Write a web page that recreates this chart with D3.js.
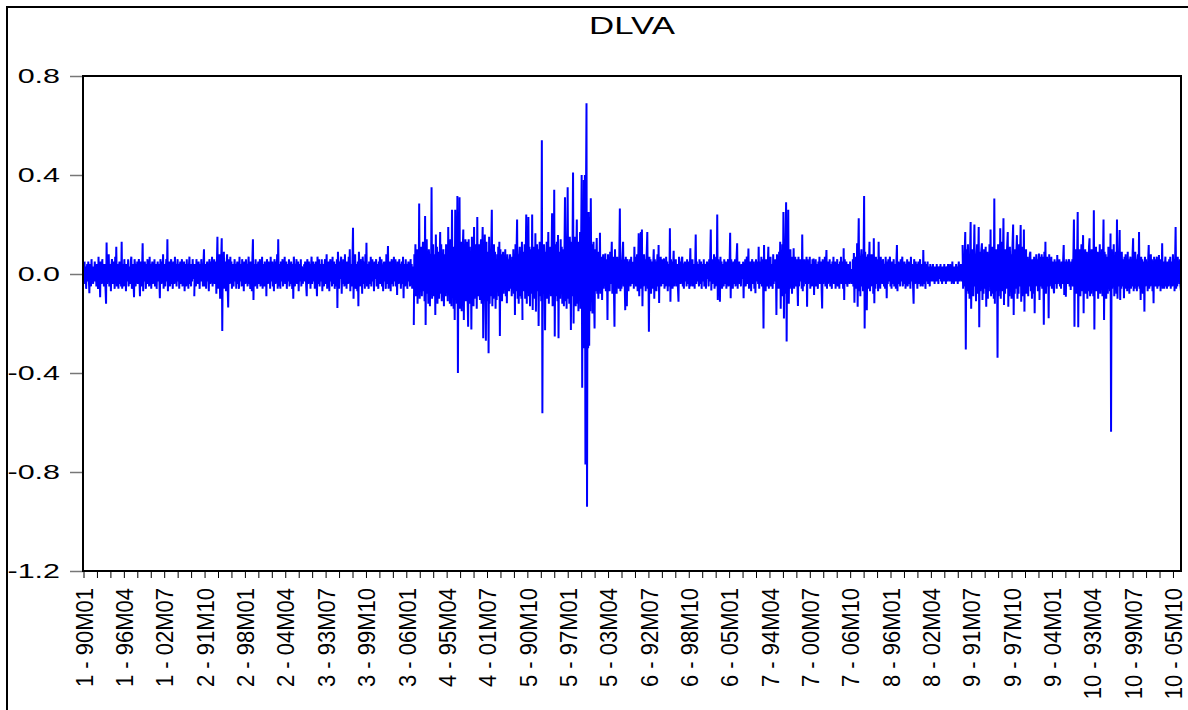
<!DOCTYPE html>
<html>
<head>
<meta charset="utf-8">
<script src="https://cdn.jsdelivr.net/npm/d3@7"></script>
<style>
    body { margin: 0; background: #fff; }
    svg { display: block; font-family: "Liberation Sans", Arial, sans-serif; }
</style>
</head>
<body>
<div id="chart"></div>
<script>
// DLVA, stacked panel: 10 cross-sections, 1990M01 .. 2006M12 (204 months each)
// first obs of each section is NA (differenced series)
const cs1 = [
    null, .05, -.04, .03, -.06, .02, .04, -.03, .05, -.02, -.078, .04, .01, -.05, .06, -.02, .03, -.04, .02, -.03,
    .05, -.01, .03, -.05, .04, .02, -.06, .07, -.03, .02, -.094, .05, .03, -.04, .06, -.02, .01, -.05, .04, .03,
    -.06, -.12, .127, -.04, .05, -.03, .08, -.05, .02, .04, -.07, .03, .06, -.02, -.04, .05, .01, -.06, .07, -.03,
    .11, -.05, .02, .04, -.06, .03, .05, -.04, .02, -.05, .13, -.06, .03, .04, -.05, .06, -.02, .03, -.07, .04,
    .02, -.03, .06, -.05, .03, .01, -.04, .05, .07, -.06, .02, .04, -.03, -.094, .06, .03, -.05, .04, -.02, .05,
    -.04, .03, .06, -.02, -.09, .05, .03, -.05, .02, .124, -.07, .04, -.03, .05, .02, -.06, .04, -.02, .06, -.04,
    .03, -.05, .07, -.02, .04, -.06, .03, .05, -.04, .02, -.03, .06, -.05, .03, .04, -.06, .02, .05, -.03, .04,
    -.02, -.098, .06, .03, -.04, .05, -.02, .08, -.06, .03, .04, -.05, .02, .06, -.03, .14, -.07, .04, -.02, .05,
    -.05, .03, .06, -.04, .02, -.06, .05, .03, -.04, .07, -.02, .04, -.05, .02, .06, -.03, .04, -.06, .03, .05,
    -.04, .02, .06, -.05, .03, -.02, .05, -.07, .04, .02, -.05, .06, -.03, .04, -.06, .03, .07, -.04, .02, -.05,
    .04, -.03, .06, -.02
];
const cs2 = [
    null, -.09, .04, .03, -.05, .06, -.02, .03, -.04, .05, .02, -.06, .04, -.03, .06, -.02, .03, -.05, .04, .10,
    -.05, .02, .04, -.06, .03, .05, -.03, .02, -.07, .06, .03, -.04, .05, -.02, .07, -.05, .02, -.03, .06, -.04,
    .03, .05, -.08, .04, .15, -.06, .03, -.05, .08, -.1, .04, .06, .144, -.23, .07, -.04, .09, -.06, .03, .05,
    -.07, .04, .08, -.05, -.135, .06, .02, -.04, .07, -.03, .05, -.06, .03, .04, -.05, .02, .06, -.03, .04, -.06,
    .03, .05, -.04, .02, -.06, .07, -.03, .04, .02, -.05, .06, -.02, .03, -.07, .05, .02, -.04, .06, -.03, .04,
    -.05, .03, .07, -.04, .02, -.06, .05, .03, -.07, .06, .14, -.105, .04, .02, -.05, .06, -.03, .04, -.06, .03,
    .05, -.04, .02, .06, -.05, .03, -.02, .07, -.06, .04, .02, -.05, .05, -.03, .04, -.09, .06, .03, -.04, .05,
    -.02, .04, -.06, .07, -.03, .02, .05, -.05, .04, -.07, .06, .03, -.04, .05, -.02, .08, -.06, .14, -.05, .03,
    .04, -.06, .05, -.03, .02, .06, -.05, .04, -.02, .07, -.04, .03, .05, -.06, .02, .04, -.03, .06, -.05, .03,
    -.04, .05, .02, -.06, .04, -.1, .07, .03, -.05, .04, -.02, .06, -.04, .03, .05, -.07, .02, .04, -.03, .06,
    -.05, .03, .02, -.04
];
const cs3 = [
    null, .04, -.03, .05, .02, -.05, -.09, .06, .03, -.04, .05, -.02, .04, -.06, .03, .07, -.04, .02, .05, -.03,
    .04, -.06, .03, .05, -.02, -.09, .07, .03, -.04, .06, -.05, .02, .04, -.03, .06, -.07, .04, .02, -.05, .03,
    .06, -.04, .02, .08, -.06, .03, -.02, .05, -.07, .04, .06, -.03, .02, -.05, .07, -.04, .03, .05, -.06, .02,
    .04, -.05, .06, -.137, .09, .03, -.06, .05, -.02, .04, .07, -.08, .03, -.04, .06, .02, -.05, .08, -.03, .04,
    -.06, .05, .02, -.04, .07, -.03, .1, -.07, .04, .02, -.05, .06, .187, -.1, .05, -.03, .08, -.06, .02, .04,
    -.07, .05, -.13, .09, .03, -.05, .06, -.02, .04, -.08, .07, .03, -.04, .05, -.06, .08, -.03, .126, -.05, .04,
    .02, -.06, .05, .03, -.04, .07, -.05, .02, .06, -.03, .04, -.07, .05, .03, -.02, .06, -.05, .04, .02, -.06,
    .05, -.03, .07, -.04, .02, .06, -.05, .03, -.07, .04, .05, -.03, .02, -.06, .08, -.04, .03, .113, -.06, .04,
    -.02, .05, -.07, .03, .06, -.04, .02, -.05, .07, -.03, .04, .06, -.05, .02, -.085, .05, .03, -.04, .06, -.02,
    .04, -.06, .03, .05, -.04, .07, -.098, .04, .02, -.05, .06, -.03, .04, -.06, .02, .05, -.03, .04, -.05, .06,
    -.02, .04, -.06, .03
];
const cs4 = [
    null, -.206, .08, -.05, .12, -.09, .06, .1, -.12, .05, -.08, .285, -.1, .07, -.04, .11, -.09, .06, .13, -.07,
    .05, -.11, .234, -.206, .09, .14, -.08, .06, -.12, .1, .05, -.13, .08, -.06, .35, -.1, .07, .12, -.09, .05,
    .08, -.166, .16, -.07, .11, -.12, .06, .09, -.1, .04, .17, -.08, .12, -.11, .07, -.05, .1, -.13, .08, .06,
    -.09, .12, -.06, .08, -.11, .19, -.07, .1, -.12, .14, .06, -.13, .26, -.09, .11, -.14, .08, -.186, .26, -.1,
    .15, -.12, .315, -.40, .12, -.08, .31, -.14, .09, .13, -.15, .07, .1, .18, -.186, .12, -.09, .14, -.11, .06,
    .13, -.1, -.213, .14, -.07, .11, -.12, .09, -.224, .15, -.06, .08, -.13, .19, -.1, .12, -.08, .1, -.14, .23,
    -.09, .07, .12, -.06, -.105, .1, .14, -.12, .08, .19, -.26, .12, -.1, .16, -.08, -.27, .13, -.11, .09, .07,
    -.32, .15, -.12, .08, -.09, .11, .26, -.13, .07, -.1, .12, -.06, .09, -.14, .05, -.105, .08, -.07, .11, -.09,
    .13, -.25, .1, -.06, .08, -.11, .05, .09, -.08, .07, -.05, .1, -.09, .06, -.118, .08, -.04, .06, -.07, .05,
    .08, -.06, .04, -.09, .07, -.05, .1, -.08, .06, -.166, .12, -.07, .09, .22, -.1, .08, -.12, .06, .11, -.09,
    .07, -.1, .13, -.186
];
const cs5 = [
    null, .09, -.07, .12, -.1, .06, .24, -.12, .08, -.06, .23, -.09, .11, -.13, .07, .1, -.08, .24, -.145, .09,
    -.06, .11, -.1, .165, -.152, .08, .12, -.07, .1, -.21, .06, .13, -.09, .07, -.11, .54, -.563, .1, -.08, .12,
    .06, -.227, .09, -.07, .13, -.1, .05, .17, -.12, .08, -.06, .11, -.09, .07, .245, -.13, .1, -.08, .34, -.253,
    .12, -.09, .07, .13, -.11, .158, -.26, .09, .06, -.1, .14, -.08, .11, -.12, .07, .1, -.13, .08, .31, -.11,
    .09, -.14, .12, .35, -.1, .08, -.12, .15, .06, -.226, .13, -.09, .1, .41, -.2, .12, -.08, .15, -.13, .07,
    .22, -.12, .09, -.15, .13, -.1, .17, -.14, .11, .40, -.46, .2, -.3, .38, -.25, .40, -.77, .3, .69, -.94,
    .15, -.3, .25, -.29, .23, -.15, .306, -.1, .12, -.16, .08, .13, -.09, -.22, .1, -.07, .05, .145, -.08, .06,
    -.1, .09, -.06, .167, -.08, .05, .07, -.105, .04, .08, -.06, .05, -.04, .083, -.07, .06, .03, -.186, .08, -.05,
    .06, -.07, .09, -.04, .05, .13, -.08, .04, .07, -.06, -.213, .1, -.05, .06, -.08, .07, -.03, .05, -.06, .08,
    .265, -.07, .05, -.06, .04, .08, .13, -.05, .06, -.04, -.146, .07, -.05, -.13, .06, .04, -.07, .05, -.03, .06,
    -.05, .07, -.04, .05
];
const cs6 = [
    null, .05, -.06, .11, -.04, .07, -.05, .03, .08, -.07, .04, .165, -.09, .05, -.06, .17, -.04, .18, -.13, .06,
    -.05, .08, -.03, .06, -.07, .04, .09, .17, -.06, .05, -.233, .07, -.04, .06, -.08, .03, .05, -.06, .04, .10,
    -.1, .06, -.03, .05, -.07, .04, .08, -.05, .117, -.117, .06, -.04, .07, -.05, .03, .06, -.04, .02, .063, -.06,
    .04, -.05, .07, -.03, .05, -.07, .04, .02, -.05, .185, -.112, .06, -.04, .05, -.06, .03, .094, -.05, .04, -.03,
    .06, -.05, .03, .04, -.06, -.112, .07, -.03, .05, -.04, .02, .06, .07, -.05, .03, -.06, .04, .05, -.03, .02,
    -.05, .06, -.04, .03, .05, -.06, .02, .104, -.05, .04, -.03, .06, -.05, .02, .04, -.06, .03, .16, -.04, .05,
    -.03, .04, .02, -.05, .06, -.04, .03, .05, -.06, .02, .04, -.03, .06, -.05, .02, .04, -.06, .03, .05, -.02,
    .04, -.05, .06, -.03, .07, .18, -.067, .05, -.04, .06, -.03, .08, -.06, .04, -.05, .07, -.04, .24, -.105, .06,
    -.04, .05, -.112, .07, -.03, .05, -.06, .04, .02, -.05, .06, -.04, .03, .05, -.06, .04, -.02, .06, -.05, .03,
    .05, .167, -.098, .06, -.04, .03, -.06, .05, .02, -.04, .06, -.05, .03, .07, .124, -.06, .04, -.03, .05, -.04,
    .03, -.05, .04, -.02
];
const cs7 = [
    null, .05, -.098, .04, -.03, .06, -.05, .03, .07, -.04, .02, .103, -.06, .04, -.03, .05, -.07, .03, .06, -.04,
    .02, .05, -.06, .04, -.078, .06, -.03, .02, .05, -.04, .11, -.06, .03, .05, -.04, .07, -.05, .03, .06, -.22,
    .117, -.05, .04, -.07, .06, .03, -.05, .04, .11, -.06, .05, -.03, .07, -.05, .04, .02, -.06, .08, -.04, .05,
    -.03, .06, .04, -.166, .08, -.05, .07, -.06, .09, -.04, .13, -.14, .08, -.07, .12, -.09, .25, -.18, .1, -.08,
    .14, .29, -.273, .11, -.1, .26, -.12, .08, -.06, .1, -.05, .07, -.08, .05, -.04, .104, -.06, .04, .07, -.05,
    .03, .06, -.04, -.129, .07, -.05, .04, .06, -.03, .05, -.06, .16, -.07, .04, -.05, .06, -.03, .05, -.04, .07,
    -.132, .06, -.04, .05, -.03, .07, -.06, .04, .02, -.05, .06, -.04, .063, -.085, .05, -.03, .06, -.05, .04, .02,
    -.06, .05, -.03, .07, -.04, .03, .05, -.06, -.139, .06, -.04, .05, -.03, .07, -.05, .04, .097, -.06, .03, -.04,
    .05, -.03, .06, -.05, .04, .02, -.06, .05, -.03, .07, -.04, .03, .05, -.06, .04, -.02, .06, -.05, .03, .04,
    -.06, .05, -.03, .07, -.04, .02, .05, -.06, .104, -.105, .06, -.04, .03, .05, -.03, -.051, .04, -.02, .03, -.04,
    .05, -.03, .02, -.04
];
const cs8 = [
    null, .06, -.05, .085, -.116, .05, -.04, .07, -.06, .124, -.132, .08, .225, -.07, .05, -.09, .06, .1, -.05, .08,
    -.07, .06, .315, -.22, .09, -.06, .07, -.146, .05, .08, -.06, .04, .13, -.07, .06, -.05, .08, -.04, .06, -.08,
    .144, -.118, .05, -.06, .07, -.04, .06, .03, -.07, .13, -.05, .04, -.06, .07, -.03, .05, -.04, .06, .03, -.05,
    .04, -.06, .07, .02, -.098, .05, -.04, .06, -.03, .04, .07, -.05, .03, -.06, .05, -.04, .02, .06, -.05, .03,
    .04, -.06, .05, .117, -.07, .03, .05, -.04, .02, -.05, .06, -.03, .04, .07, -.05, .02, -.04, .05, .03, -.06,
    .04, -.03, .06, -.05, .02, .05, -.04, .03, -.06, .07, -.03, .04, .02, -.05, -.12, .06, .03, -.04, .05, -.03,
    .04, -.06, .03, .05, -.04, .02, .06, -.05, .03, -.02, .04, -.05, .097, -.04, .03, .05, -.06, .02, .04, -.03,
    .05, -.04, .02, .03, -.05, .04, -.02, .03, -.03, .02, .04, -.03, .01, -.04, .03, .02, -.03, .04, -.02, .03,
    -.04, .02, .03, -.02, .04, -.03, .02, -.04, .03, .01, -.03, .04, -.02, .03, -.04, .02, .03, -.03, .04, -.02,
    .02, -.03, .04, -.02, .03, -.04, .05, -.03, .02, -.04, .03, .02, -.03, .04, -.02, .03, -.04, .02, .05, -.03,
    .03, -.02, .04, -.03
];
const cs9 = [
    null, .117, -.06, .08, -.05, .09, .17, -.305, .1, -.07, .06, .12, -.08, .05, -.1, .09, .21, -.14, .07, -.06,
    .1, -.09, .06, .2, -.05, .08, -.11, .07, .12, -.08, .06, .19, -.215, .09, -.07, .05, .1, .124, -.105, .06,
    -.08, .1, -.06, .07, .11, -.132, .05, .09, -.1, .06, -.07, .12, -.05, .18, -.09, .07, .11, -.08, .06, -.1,
    .305, -.12, .08, -.07, .1, .06, -.338, .12, -.09, .07, -.06, .185, -.1, .08, .13, -.07, .06, .225, -.125, .09,
    -.08, .1, -.06, .07, .12, .17, -.132, .08, -.09, .11, -.05, .08, -.1, .06, .13, .2, -.166, .07, -.08, .1,
    -.06, .09, .157, -.1, .07, -.08, .12, -.05, .09, .198, -.112, .06, -.09, .11, -.07, .18, -.152, .08, -.06, .1,
    -.08, .05, .07, -.09, .06, -.05, .08, .09, -.07, .05, -.1, .06, .04, -.08, .07, -.159, .06, -.05, .08, -.04,
    .06, -.07, .05, .083, -.105, .07, -.05, .04, .08, -.06, .05, .07, -.205, .09, -.06, .13, -.08, .05, .07, -.05,
    .06, -.179, .08, -.05, .06, -.04, .07, -.06, .05, .04, -.05, -.078, .06, -.04, .05, .03, -.06, .077, -.04, .05,
    -.03, .06, -.05, .04, -.06, .05, .03, -.04, .06, .117, -.085, .05, .04, -.092, .06, -.03, .05, -.04, .03, .06,
    -.05, .04, -.065, .05
];
const cs10 = [
    null, .06, -.05, .08, .22, -.213, .09, -.06, .1, -.08, .07, .25, -.215, .08, -.06, .1, -.09, .05, .12, -.07,
    .06, .157, -.159, .08, -.05, .1, -.08, .06, .09, -.1, .05, -.07, .11, .144, -.09, .06, -.08, .1, -.05, .07,
    -.09, .258, -.224, .08, -.06, .11, -.07, .05, .09, -.1, .06, -.05, .12, -.08, .07, -.06, .1, -.09, .06, .22,
    -.186, .09, -.06, .08, -.1, .07, .05, -.08, .11, -.06, .09, -.07, .164, -.637, .1, -.06, .08, -.05, .12, -.09,
    .07, -.06, .09, -.08, .22, -.1, .06, -.05, .08, .178, -.105, .07, -.06, .09, -.05, .06, .04, -.098, .07, -.05,
    .08, -.06, .05, -.07, .09, -.04, .06, -.08, .05, .07, -.06, .04, -.05, .08, .144, -.07, .05, -.06, .09, -.04,
    .06, -.07, .05, .08, -.05, .17, -.06, .04, -.105, .07, -.05, .06, -.08, .05, .03, -.152, .07, -.05, .06, -.04,
    .05, -.07, .06, .117, -.06, .04, -.05, .08, -.04, .06, -.07, .05, -.118, .07, -.04, .06, -.05, .03, .07, -.06,
    .04, -.05, .077, -.04, .06, -.07, .05, -.03, .124, -.06, .04, .05, -.06, .03, .07, -.05, .04, -.06, .05, .03,
    -.05, .06, -.04, .07, -.06, .05, .03, -.05, .08, -.04, .06, -.07, .05, .19, -.06, .04, -.05, .07, -.03, .05,
    -.04, .06, -.05, -.07
];

const sections = [cs1, cs2, cs3, cs4, cs5, cs6, cs7, cs8, cs9, cs10];
const perSection = 204;

// axis labels (every 75th obs), minor ticks every 25
const tickLabels = [
    '1 - 90M01', '1 - 96M04', '1 - 02M07', '2 - 91M10', '2 - 98M01', '2 - 04M04',
    '3 - 93M07', '3 - 99M10', '3 - 06M01', '4 - 95M04', '4 - 01M07', '5 - 90M10',
    '5 - 97M01', '5 - 03M04', '6 - 92M07', '6 - 98M10', '6 - 05M01', '7 - 94M04',
    '7 - 00M07', '7 - 06M10', '8 - 96M01', '8 - 02M04', '9 - 91M07', '9 - 97M10',
    '9 - 04M01', '10 - 93M04', '10 - 99M07', '10 - 05M10'
];
const yTicks = [-1.2, -0.8, -0.4, 0.0, 0.4, 0.8];

const width = 1188, height = 710;
const plot = {left: 83, right: 1181, top: 76, bottom: 571};
const stretch = 1.45; // horizontal text stretch seen in the picture

let points = [];
sections.forEach((arr, k) => {
    arr.forEach((v, i) => points.push({i: k * perSection + i, v: v}));
});
const nObs = sections.length * perSection;

let x = d3.scaleLinear()
    .domain([0, nObs - 1])
    .range([plot.left + 1, plot.right]);

let y = d3.scaleLinear()
    .domain([-1.2, 0.8])
    .range([plot.bottom, plot.top]);

let svg = d3.select('#chart')
    .append('svg')
    .attr('width', width)
    .attr('height', height);

function widen(sel, f) {
    sel.each(function() {
        let len = this.getComputedTextLength();
        d3.select(this)
            .attr('textLength', len * f)
            .attr('lengthAdjust', 'spacingAndGlyphs');
    });
}

// outer frame (runs off the right / bottom edge)
svg.append('rect')
    .attr('x', 7).attr('y', 7)
    .attr('width', 1200).attr('height', 720)
    .attr('fill', 'none')
    .attr('stroke', 'black')
    .attr('stroke-width', 2);

svg.append('text')
    .attr('x', (plot.left + plot.right) / 2)
    .attr('y', 34)
    .attr('text-anchor', 'middle')
    .style('font-size', '24px')
    .text('DLVA')
    .call(widen, stretch);

// y axis
let yAxis = svg.append('g')
    .attr('transform', `translate(${plot.left},0)`)
    .call(d3.axisLeft(y).tickValues(yTicks).tickSize(13).tickPadding(10)
        .tickFormat(d => d.toFixed(1)));
yAxis.select('.domain').remove();
yAxis.selectAll('line').attr('stroke', '#777').attr('stroke-width', 1.5);
yAxis.selectAll('text')
    .attr('fill', 'black')
    .attr('font-family', null)
    .attr('font-size', null)
    .style('font-size', '21px')
    .call(widen, stretch);

// x axis: minor ticks
let minor = d3.range(0, nObs, 25);
svg.append('g')
    .selectAll('line')
    .data(minor)
    .join('line')
    .attr('x1', d => x(d)).attr('x2', d => x(d))
    .attr('y1', plot.bottom).attr('y2', plot.bottom + 7)
    .attr('stroke', 'black')
    .attr('stroke-width', 1);

svg.append('g')
    .selectAll('text')
    .data(tickLabels)
    .join('text')
    .attr('transform', (d, k) => `translate(${x(k * 75)},${plot.bottom + 17}) rotate(-90) scale(1,1.1)`)
    .attr('text-anchor', 'end')
    .attr('dy', '0.36em')
    .style('font-size', '22px')
    .text(d => d);

// series
let line = d3.line()
    .defined(d => d.v !== null)
    .x(d => x(d.i))
    .y(d => y(d.v));

svg.append('path')
    .datum(points)
    .attr('d', line)
    .attr('fill', 'none')
    .attr('stroke', '#0000ff')
    .attr('stroke-width', 2)
    .attr('stroke-linejoin', 'miter');

// plot frame
svg.append('rect')
    .attr('x', plot.left).attr('y', plot.top)
    .attr('width', plot.right - plot.left)
    .attr('height', plot.bottom - plot.top)
    .attr('fill', 'none')
    .attr('stroke', 'black')
    .attr('stroke-width', 2);
</script>
</body>
</html>
